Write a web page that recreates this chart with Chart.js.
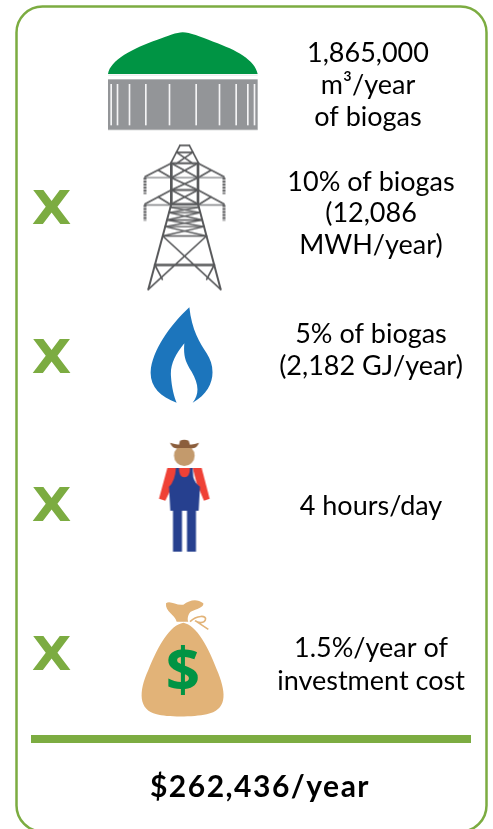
<!DOCTYPE html>
<html>
<head>
<meta charset="utf-8">
<style>
html, body { margin: 0; padding: 0; background: #fff; }
#wrap { width: 493px; height: 829px; }
</style>
<script src="https://cdn.jsdelivr.net/npm/chart.js@4"></script>
</head>
<body>
<div id="wrap"><canvas id="chart"></canvas></div>
<script>
// content
var biogasLines = ["1,865,000", "m³/year", "of biogas"];
var powerLines = ["10% of biogas", "(12,086", "MWH/year)"];
var heatLines = ["5% of biogas", "(2,182 GJ/year)"];
var laborLines = ["4 hours/day"];
var costLines = ["1.5%/year of", "investment cost"];
var operators = ["", "X", "X", "X", "X"];
var total = "$262,436/year";
var bagSign = "$";

// layout, in page pixels (the scales run 0-493 and 0-829)
var rowText = [biogasLines, powerLines, heatLines, laborLines, costLines];
var rowBaselines = [[62, 94, 126], [191, 222, 254], [343, 375], [515], [657, 690]];
var textX = [368, 371, 371, 371, 371];
var operatorX = 51.5;
var operatorY = [0, 207, 356, 504, 653];
var iconX = [183, 184, 181, 184.5, 183];
var iconY = [81.5, 217.5, 355, 495, 658];
var GREEN = "#7cac41", DARK = "#000";

function makeIcon(w, h, cx, cy, zx, zy, draw) {
    // draw() works in 3x zoom coordinates, offset by (zx,zy) in page pixels
    var c = document.createElement("canvas");
    c.width = w; c.height = h;
    var g = c.getContext("2d");
    g.translate(zx - (cx - w / 2), zy - (cy - h / 2));
    g.scale(1 / 3, 1 / 3);
    draw(g);
    return c;
}

function fillPath(g, color, d) {
    g.fillStyle = color;
    g.fill(new Path2D(d));
}

function seg(g, x1, y1, x2, y2) {
    g.beginPath();
    g.moveTo(x1, y1);
    g.lineTo(x2, y2);
    g.stroke();
}

function drawDigester(g) {
    fillPath(g, "#009444", "M324,222 C330,180 400,145 470,120 C505,108 530,97 548,97 C570,97 600,110 640,125 C710,150 765,180 773,222 Z");
    g.fillStyle = "#939598";
    g.fillRect(324, 238, 449, 152);
    g.fillStyle = "#e6e7e8";
    g.fillRect(324, 224, 449, 3);
    g.fillRect(324, 389, 449, 3);
    g.fillStyle = "#f4f4f5";
    [333, 352, 388, 437, 508, 588, 658, 708, 743, 763].forEach(function (x) {
        g.fillRect(x - 2, 252, 5, 124);
    });
}

function drawTower(g) {
    g.strokeStyle = "#58595b";
    g.lineWidth = 5;
    g.lineCap = "round";
    seg(g, 540, 436, 568, 436);
    seg(g, 540, 436, 512, 490);
    seg(g, 568, 436, 596, 490);
    seg(g, 530, 457, 578, 457);
    seg(g, 530, 457, 578, 490);
    seg(g, 578, 457, 530, 490);
    // arms
    [[490, 533], [570, 615]].forEach(function (a) {
        seg(g, 514, a[0], 435, a[1] - 3);
        seg(g, 594, a[0], 672, a[1] - 3);
        seg(g, 475, a[0] + 21, 514, a[1]);
        seg(g, 633, a[0] + 21, 594, a[1]);
        g.lineWidth = 4;
        g.strokeStyle = "#808285";
        seg(g, 435, a[1], 672, a[1]);
        g.strokeStyle = "#58595b";
        g.lineWidth = 5;
    });
    // mast
    g.lineWidth = 8;
    seg(g, 514, 490, 514, 612);
    seg(g, 594, 490, 594, 612);
    g.lineWidth = 6;
    [490, 570, 612].forEach(function (y) { seg(g, 514, y, 594, y); });
    g.lineWidth = 5;
    [[490, 533], [533, 570], [570, 612]].forEach(function (b) {
        seg(g, 514, b[0], 594, b[1]);
        seg(g, 594, b[0], 514, b[1]);
    });
    // insulators
    g.save();
    g.lineCap = "butt";
    g.lineWidth = 9;
    g.setLineDash([6, 3]);
    [[533, 582], [615, 662]].forEach(function (b) {
        seg(g, 435, b[0], 435, b[1]);
        seg(g, 672, b[0], 672, b[1]);
    });
    g.restore();
    // legs
    function lx(y) { return 514 - (y - 612) * 69 / 256; }
    function rx(y) { return 594 + (y - 612) * 68 / 256; }
    g.lineWidth = 6;
    seg(g, 514, 612, 445, 868);
    seg(g, 594, 612, 662, 868);
    var rungs = [622, 638, 660, 680, 708, 795];
    rungs.forEach(function (y, i) {
        g.lineWidth = i == 5 ? 7 : 4;
        seg(g, lx(y), y, rx(y), y);
    });
    g.lineWidth = 4;
    for (var i = 0; i < rungs.length - 2; i++) {
        seg(g, lx(rungs[i]), rungs[i], rx(rungs[i + 1]), rungs[i + 1]);
        seg(g, rx(rungs[i]), rungs[i], lx(rungs[i + 1]), rungs[i + 1]);
    }
    g.lineWidth = 5;
    seg(g, lx(708), 708, 662, 868);
    seg(g, rx(708), 708, 445, 868);
    seg(g, lx(795), 795, 487, 838);
    seg(g, rx(795), 795, 620, 838);
}

function drawFlame(g) {
    fillPath(g, "#1c75bc", "M568,52 C575,120 600,160 620,190 C650,235 645,300 578,338 C600,310 595,280 575,245 C555,215 550,195 553,160 C525,195 510,225 513,260 C515,290 522,320 530,338 C480,320 450,290 452,245 C455,185 510,105 568,52 Z");
}

function drawFarmer(g) {
    var RED = "#ef4136", BLUE = "#26408f";
    g.fillStyle = "#c39a6c";
    g.beginPath();
    g.arc(553, 497, 31, 0, Math.PI * 2);
    g.fill();
    fillPath(g, "#8b5e3c", "M510,458 Q525,462 537,464 L540,452 Q553,447 566,452 L570,464 Q585,463 597,458 Q590,478 570,474 L535,474 Q518,478 510,458 Z");
    fillPath(g, RED, "M502,534 L530,534 L528,560 Q522,580 516,590 L496,632 L477,626 Z");
    fillPath(g, RED, "M578,534 L605,534 L629,626 L612,632 L590,580 Z");
    fillPath(g, RED, "M530,534 L576,534 Q575,565 553,565 Q530,565 530,534 Z");
    fillPath(g, BLUE, "M528,534 L537,534 Q537,562 553,562 Q570,562 570,534 L578,534 L580,562 Q585,580 600,590 L596,662 L511,662 L507,590 Q525,575 528,534 Z");
    g.fillStyle = BLUE;
    g.fillRect(519, 660, 27, 125);
    g.fillRect(561, 660, 27, 125);
}

function drawBag(g) {
    var TAN = "#e2b378";
    fillPath(g, TAN, "M550,158 C590,165 625,230 655,310 C680,375 680,420 620,433 C580,442 500,442 470,433 C415,420 415,365 445,300 C475,225 510,165 550,158 Z");
    fillPath(g, TAN, "M498,100 C510,90 530,108 550,104 C570,90 590,85 610,100 C612,112 590,118 572,125 C562,135 562,150 565,155 L530,155 C525,135 495,125 498,100 Z");
    g.strokeStyle = TAN;
    g.lineWidth = 5;
    g.beginPath();
    g.moveTo(570, 155);
    g.bezierCurveTo(590, 135, 622, 135, 616, 150);
    g.bezierCurveTo(612, 160, 595, 160, 585, 152);
    g.moveTo(590, 155);
    g.lineTo(625, 178);
    g.stroke();
}

var icons = [
    makeIcon(156, 105, iconX[0], iconY[0], 0, 0, drawDigester),
    makeIcon(90, 150, iconX[1], iconY[1], 0, 0, drawTower),
    makeIcon(70, 106, iconX[2], iconY[2], 0, 290, drawFlame),
    makeIcon(60, 120, iconX[3], iconY[3], 0, 290, drawFarmer),
    makeIcon(92, 124, iconX[4], iconY[4], 0, 570, drawBag)
];

var framePlugin = {
    id: "frame",
    beforeDatasetsDraw: function (chart) {
        var c = chart.ctx, sx = chart.scales.x, sy = chart.scales.y;
        c.save();
        c.strokeStyle = GREEN;
        c.lineWidth = 2.5;
        c.beginPath();
        // bottom edge sits just below the page, only the corners show
        c.roundRect(sx.getPixelForValue(16.5), sy.getPixelForValue(6.5), sx.getPixelForValue(470), sy.getPixelForValue(825), 26);
        c.stroke();
        c.restore();
    }
};

var textPlugin = {
    id: "texts",
    afterDatasetsDraw: function (chart) {
        var c = chart.ctx, sx = chart.scales.x, sy = chart.scales.y;
        c.save();
        c.textAlign = "center";
        c.textBaseline = "alphabetic";
        c.fillStyle = DARK;
        c.font = "400 27px Lato";
        rowText.forEach(function (lines, r) {
            lines.forEach(function (t, i) {
                c.fillText(t, sx.getPixelForValue(textX[r]), sy.getPixelForValue(rowBaselines[r][i]));
            });
        });
        c.fillStyle = GREEN;
        c.font = "700 46px 'DejaVu Sans'";
        operators.forEach(function (t, r) {
            if (!t) return;
            c.save();
            c.translate(sx.getPixelForValue(operatorX), sy.getPixelForValue(operatorY[r] + 17));
            c.scale(1.12, 1);
            c.fillText(t, 0, 0);
            c.restore();
        });
        c.fillStyle = "#009444";
        c.font = "700 60px 'Open Sans'";
        c.textBaseline = "middle";
        c.fillText(bagSign, sx.getPixelForValue(183), sy.getPixelForValue(674));
        c.fillStyle = "#000";
        c.font = "700 30px Lato";
        c.letterSpacing = "1.5px";
        c.textBaseline = "alphabetic";
        c.fillText(total, sx.getPixelForValue(260), sy.getPixelForValue(797));
        c.restore();
    }
};

var ctx = document.getElementById("chart");
var chart = new Chart(ctx, {
    type: "scatter",
    data: {
        datasets: [
            {
                label: "Icons",
                data: iconX.map(function (x, i) { return { x: x, y: iconY[i] }; }),
                pointStyle: icons,
                pointRadius: 10
            },
            {
                label: "Total rule",
                data: [{ x: 31, y: 739 }, { x: 471, y: 739 }],
                showLine: true,
                borderColor: GREEN,
                borderWidth: 8,
                pointRadius: 0
            }
        ]
    },
    options: {
        responsive: true,
        maintainAspectRatio: false,
        animation: false,
        layout: { padding: 0, autoPadding: false },
        plugins: {
            legend: { display: false },
            title: { display: false },
            tooltip: { enabled: false }
        },
        scales: {
            x: { type: "linear", display: false, min: 0, max: 493 },
            y: { type: "linear", display: false, min: 0, max: 829, reverse: true }
        }
    },
    plugins: [framePlugin, textPlugin]
});
</script>
</body>
</html>
